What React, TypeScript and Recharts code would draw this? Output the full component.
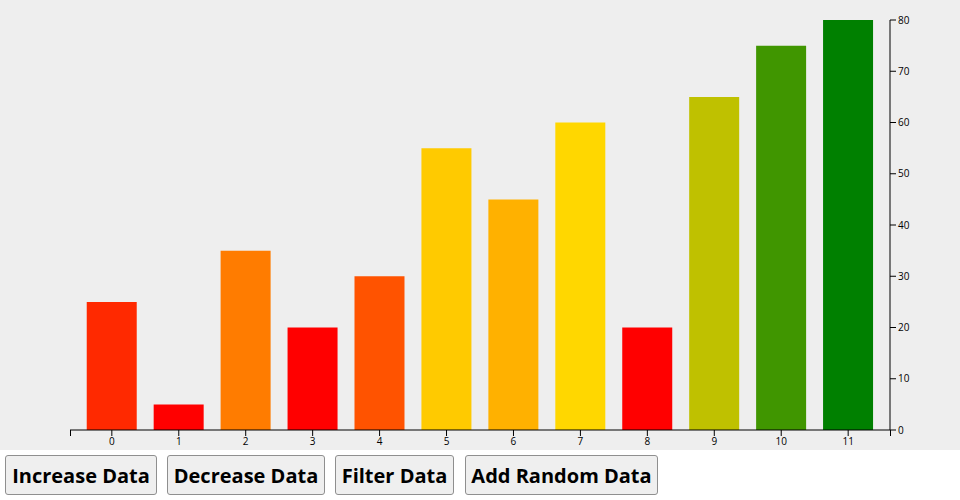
import React from "react";
import * as R from "recharts";
import { BarChart, Bar, XAxis, YAxis, Cell, Customized } from "recharts";

const categories = ["0", "1", "2", "3", "4", "5", "6", "7", "8", "9", "10", "11"];
const values = [25, 5, 35, 20, 30, 55, 45, 60, 20, 65, 75, 80];
const barColors = [
  "#ff2900", "#ff0000", "#ff7c00", "#ff0000", "#ff5300", "#ffca00",
  "#ffb100", "#ffd700", "#ff0000", "#bfc100", "#409600", "#008000",
];
const yTicks = [0, 10, 20, 30, 40, 50, 60, 70, 80];
const buttonLabels = ["Increase Data", "Decrease Data", "Filter Data", "Add Random Data"];
const buttonLefts = [5, 167, 335, 465];
const buttonWidths = [152, 158, 119, 193];

const data = categories.map((name, i) => ({ name, value: values[i] }));

const W = 960;
const H = 450;

function OuterTicks() {
  const anyR: any = R;
  let area: any = null;
  if (typeof anyR.usePlotArea === "function") {
    area = anyR.usePlotArea();
  }
  if (!area && typeof anyR.useOffset === "function") {
    const o = anyR.useOffset();
    if (o) area = { x: o.left, y: o.top, width: W - o.left - o.right, height: H - o.top - o.bottom };
  }
  if (!area) return null;
  const by = area.y + area.height;
  return (
    <g>
      <line x1={area.x + 0.5} x2={area.x + 0.5} y1={by} y2={by + 6} stroke="#000" strokeWidth={1} />
      <line x1={area.x + area.width + 0.5} x2={area.x + area.width + 0.5} y1={by} y2={by + 6} stroke="#000" strokeWidth={1} />
    </g>
  );
}

const btnStyle: React.CSSProperties = {
  position: "absolute",
  top: 455,
  height: 40,
  boxSizing: "border-box",
  background: "#efefef",
  border: "1px solid #8f8f8f",
  borderRadius: 3,
  fontFamily: "'Open Sans', 'Noto Sans', sans-serif",
  fontWeight: 700,
  fontSize: 20,
  color: "#000",
  padding: 0,
  textAlign: "center",
  whiteSpace: "nowrap",
};

export default function App() {
  const tickStyle = { fontSize: 10, fontFamily: "'Open Sans', sans-serif", fill: "#000" };
  return (
    <div style={{ position: "absolute", left: 0, top: 0, width: 960, height: 500, background: "#fff" }}>
      <div style={{ width: W, height: H, background: "#eeeeee" }}>
        <BarChart
          width={W}
          height={H}
          data={data}
          margin={{ top: 20, right: 30, left: 70, bottom: 0 }}
          barCategoryGap="12.5%"
        >
          <XAxis
            dataKey="name"
            height={20}
            padding={{ left: 8.37, right: 8.37 }}
            axisLine={{ stroke: "#000" }}
            tickLine={{ stroke: "#000" }}
            tick={tickStyle}
            tickSize={6}
            tickMargin={2}
            interval={0}
          />
          <YAxis
            orientation="right"
            width={40}
            domain={[0, 80]}
            ticks={yTicks}
            axisLine={{ stroke: "#000" }}
            tickLine={{ stroke: "#000" }}
            tick={tickStyle}
            tickSize={6}
            tickMargin={2}
            interval={0}
          />
          <Bar dataKey="value" isAnimationActive={false}>
            {data.map((d, i) => (
              <Cell key={d.name} fill={barColors[i]} />
            ))}
          </Bar>
          <Customized component={<OuterTicks />} />
        </BarChart>
      </div>
      {buttonLabels.map((label, i) => (
        <button key={label} style={{ ...btnStyle, left: buttonLefts[i], width: buttonWidths[i] }}>
          {label}
        </button>
      ))}
    </div>
  );
}
